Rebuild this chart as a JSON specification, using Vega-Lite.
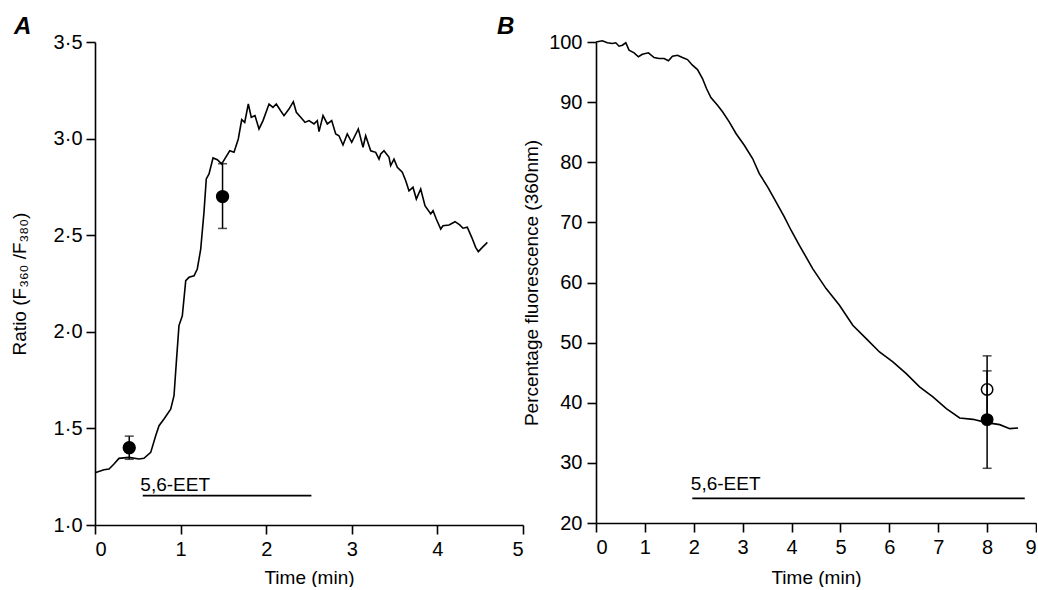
{
  "$schema": "https://vega.github.io/schema/vega-lite/v6.json",
  "padding": {"left": 10, "top": 15, "right": 0, "bottom": 0},
  "background": "white",
  "config": {
    "view": {"stroke": null},
    "font": "Liberation Sans",
    "axis": {
      "grid": false,
      "domainColor": "black",
      "domainWidth": 1.6,
      "tickColor": "black",
      "tickWidth": 1.6,
      "tickSize": 9,
      "labelColor": "black",
      "labelFont": "Liberation Sans",
      "labelFontSize": 20,
      "titleFont": "Liberation Sans",
      "titleFontSize": 19,
      "titleFontWeight": "normal",
      "titleColor": "black"
    },
    "title": {"font": "Liberation Sans", "fontSize": 24, "fontStyle": "italic", "fontWeight": "bold", "color": "black", "anchor": "start", "frame": "group"}
  },
  "datasets": {
    "traceA": [
      {"t": 0.0, "v": 1.27}, {"t": 0.105, "v": 1.286}, {"t": 0.164, "v": 1.29}, {"t": 0.222, "v": 1.316},
      {"t": 0.28, "v": 1.345}, {"t": 0.397, "v": 1.35}, {"t": 0.514, "v": 1.342}, {"t": 0.572, "v": 1.345},
      {"t": 0.651, "v": 1.376}, {"t": 0.709, "v": 1.462}, {"t": 0.748, "v": 1.514}, {"t": 0.806, "v": 1.549},
      {"t": 0.884, "v": 1.6}, {"t": 0.923, "v": 1.669}, {"t": 0.95, "v": 1.842}, {"t": 0.981, "v": 2.032},
      {"t": 1.02, "v": 2.083}, {"t": 1.06, "v": 2.265}, {"t": 1.098, "v": 2.282}, {"t": 1.157, "v": 2.29},
      {"t": 1.195, "v": 2.325}, {"t": 1.235, "v": 2.428}, {"t": 1.273, "v": 2.618}, {"t": 1.3, "v": 2.791},
      {"t": 1.332, "v": 2.817}, {"t": 1.379, "v": 2.9}, {"t": 1.429, "v": 2.891}, {"t": 1.48, "v": 2.869},
      {"t": 1.527, "v": 2.903}, {"t": 1.574, "v": 2.937}, {"t": 1.624, "v": 2.929}, {"t": 1.674, "v": 2.998},
      {"t": 1.714, "v": 3.098}, {"t": 1.749, "v": 3.084}, {"t": 1.791, "v": 3.179}, {"t": 1.826, "v": 3.11},
      {"t": 1.869, "v": 3.119}, {"t": 1.916, "v": 3.05}, {"t": 1.963, "v": 3.093}, {"t": 2.033, "v": 3.179},
      {"t": 2.079, "v": 3.162}, {"t": 2.118, "v": 3.179}, {"t": 2.169, "v": 3.144}, {"t": 2.208, "v": 3.119},
      {"t": 2.266, "v": 3.153}, {"t": 2.317, "v": 3.191}, {"t": 2.352, "v": 3.136}, {"t": 2.403, "v": 3.11},
      {"t": 2.453, "v": 3.084}, {"t": 2.5, "v": 3.093}, {"t": 2.558, "v": 3.076}, {"t": 2.597, "v": 3.093},
      {"t": 2.617, "v": 3.036}, {"t": 2.664, "v": 3.119}, {"t": 2.714, "v": 3.076}, {"t": 2.765, "v": 3.093},
      {"t": 2.812, "v": 3.024}, {"t": 2.85, "v": 3.015}, {"t": 2.897, "v": 2.967}, {"t": 2.947, "v": 3.024},
      {"t": 2.999, "v": 2.981}, {"t": 3.076, "v": 3.05}, {"t": 3.131, "v": 2.955}, {"t": 3.162, "v": 3.015},
      {"t": 3.221, "v": 2.937}, {"t": 3.279, "v": 2.929}, {"t": 3.318, "v": 2.894}, {"t": 3.338, "v": 2.92},
      {"t": 3.376, "v": 2.937}, {"t": 3.435, "v": 2.903}, {"t": 3.454, "v": 2.86}, {"t": 3.493, "v": 2.894},
      {"t": 3.532, "v": 2.851}, {"t": 3.59, "v": 2.826}, {"t": 3.63, "v": 2.782}, {"t": 3.668, "v": 2.73},
      {"t": 3.715, "v": 2.748}, {"t": 3.754, "v": 2.687}, {"t": 3.805, "v": 2.739}, {"t": 3.855, "v": 2.653},
      {"t": 3.922, "v": 2.61}, {"t": 3.949, "v": 2.627}, {"t": 3.987, "v": 2.584}, {"t": 4.039, "v": 2.532},
      {"t": 4.065, "v": 2.549}, {"t": 4.136, "v": 2.553}, {"t": 4.206, "v": 2.57}, {"t": 4.261, "v": 2.553},
      {"t": 4.299, "v": 2.536}, {"t": 4.349, "v": 2.541}, {"t": 4.401, "v": 2.489}, {"t": 4.447, "v": 2.437},
      {"t": 4.478, "v": 2.415}, {"t": 4.525, "v": 2.437}, {"t": 4.564, "v": 2.454}, {"t": 4.583, "v": 2.463}
    ],
    "traceB": [
      {"t": 0.0, "v": 100.0}, {"t": 0.129, "v": 100.2}, {"t": 0.232, "v": 99.87}, {"t": 0.334, "v": 99.75},
      {"t": 0.404, "v": 99.87}, {"t": 0.471, "v": 99.3}, {"t": 0.539, "v": 99.47}, {"t": 0.609, "v": 99.87},
      {"t": 0.676, "v": 98.64}, {"t": 0.779, "v": 98.2}, {"t": 0.867, "v": 97.54}, {"t": 0.949, "v": 97.97},
      {"t": 1.072, "v": 98.2}, {"t": 1.189, "v": 97.42}, {"t": 1.291, "v": 97.25}, {"t": 1.393, "v": 97.25},
      {"t": 1.482, "v": 96.87}, {"t": 1.564, "v": 97.64}, {"t": 1.666, "v": 97.8}, {"t": 1.768, "v": 97.42},
      {"t": 1.871, "v": 97.08}, {"t": 1.973, "v": 96.14}, {"t": 2.076, "v": 95.42}, {"t": 2.178, "v": 93.93},
      {"t": 2.26, "v": 92.26}, {"t": 2.35, "v": 90.77}, {"t": 2.486, "v": 89.48}, {"t": 2.588, "v": 88.39},
      {"t": 2.725, "v": 86.72}, {"t": 2.863, "v": 84.78}, {"t": 3.033, "v": 82.83}, {"t": 3.203, "v": 80.62},
      {"t": 3.34, "v": 78.12}, {"t": 3.51, "v": 75.91}, {"t": 3.682, "v": 73.41}, {"t": 3.852, "v": 70.92},
      {"t": 3.99, "v": 68.69}, {"t": 4.16, "v": 66.19}, {"t": 4.432, "v": 62.31}, {"t": 4.707, "v": 58.99},
      {"t": 4.98, "v": 56.21}, {"t": 5.252, "v": 52.88}, {"t": 5.527, "v": 50.67}, {"t": 5.799, "v": 48.45},
      {"t": 6.072, "v": 46.79}, {"t": 6.346, "v": 44.84}, {"t": 6.619, "v": 42.63}, {"t": 6.891, "v": 40.97},
      {"t": 7.166, "v": 39.02}, {"t": 7.439, "v": 37.47}, {"t": 7.711, "v": 37.24}, {"t": 7.986, "v": 36.69},
      {"t": 8.258, "v": 36.36}, {"t": 8.463, "v": 35.69}, {"t": 8.633, "v": 35.81}
    ],
    "ptsA": [
      {"t": 0.4, "v": 1.4, "lo": 1.34, "hi": 1.46, "kind": "filled"},
      {"t": 1.49, "v": 2.7, "lo": 2.535, "hi": 2.87, "kind": "filled"}
    ],
    "ptsB": [
      {"t": 8.0, "v": 37.2, "lo": 29.1, "hi": 45.3, "kind": "filled"},
      {"t": 8.0, "v": 42.2, "lo": 36.6, "hi": 47.8, "kind": "open"}
    ],
    "eetA": [{"start": 0.558, "end": 2.528, "v": 1.152, "labelT": 0.53, "labelV": 1.175, "label": "5,6-EET"}],
    "eetB": [{"start": 1.97, "end": 8.77, "v": 24.1, "labelT": 1.94, "labelV": 25.5, "label": "5,6-EET"}]
  },
  "hconcat": [
    {
      "width": 428,
      "height": 483,
      "title": {"text": "A", "dx": -81, "offset": -7},
      "layer": [
        {
          "data": {"name": "traceA"},
          "mark": {"type": "line", "color": "black", "strokeWidth": 1.6, "interpolate": "linear"},
          "encoding": {
            "x": {"field": "t", "type": "quantitative", "scale": {"domain": [0, 5], "nice": false, "zero": false},
                  "axis": {"title": "Time (min)", "values": [0, 1, 2, 3, 4, 5], "format": "d", "labelPadding": 5, "titlePadding": 9}},
            "y": {"field": "v", "type": "quantitative", "scale": {"domain": [1, 3.5], "nice": false, "zero": false},
                  "axis": {"title": "Ratio (F₃₆₀ /F₃₈₀)", "values": [1, 1.5, 2, 2.5, 3, 3.5], "labelExpr": "replace(format(datum.value, '.1f'), '.', '·')", "labelPadding": 4, "titlePadding": 24}}
          }
        },
        {
          "data": {"name": "ptsA"},
          "mark": {"type": "rule", "color": "black", "strokeWidth": 1.5},
          "encoding": {"x": {"field": "t", "type": "quantitative"}, "y": {"field": "lo", "type": "quantitative"}, "y2": {"field": "hi"}}
        },
        {
          "data": {"name": "ptsA"},
          "mark": {"type": "tick", "orient": "horizontal", "color": "black", "size": 9, "thickness": 1.5},
          "encoding": {"x": {"field": "t", "type": "quantitative"}, "y": {"field": "hi", "type": "quantitative"}}
        },
        {
          "data": {"name": "ptsA"},
          "mark": {"type": "tick", "orient": "horizontal", "color": "black", "size": 9, "thickness": 1.5},
          "encoding": {"x": {"field": "t", "type": "quantitative"}, "y": {"field": "lo", "type": "quantitative"}}
        },
        {
          "data": {"name": "ptsA"},
          "mark": {"type": "point", "shape": "circle", "filled": true, "size": 140, "opacity": 1, "stroke": "black", "strokeWidth": 1.5},
          "encoding": {"x": {"field": "t", "type": "quantitative"}, "y": {"field": "v", "type": "quantitative"},
                       "color": {"field": "kind", "type": "nominal", "scale": {"domain": ["filled", "open"], "range": ["black", "white"]}, "legend": null}}
        },
        {
          "data": {"name": "eetA"},
          "mark": {"type": "rule", "color": "black", "strokeWidth": 1.6},
          "encoding": {"x": {"field": "start", "type": "quantitative"}, "x2": {"field": "end"}, "y": {"field": "v", "type": "quantitative"}}
        },
        {
          "data": {"name": "eetA"},
          "mark": {"type": "text", "align": "left", "baseline": "alphabetic", "fontSize": 19, "font": "Liberation Sans", "color": "black"},
          "encoding": {"x": {"field": "labelT", "type": "quantitative"}, "y": {"field": "labelV", "type": "quantitative"}, "text": {"field": "label"}}
        }
      ]
    },
    {
      "width": 440,
      "height": 481,
      "title": {"text": "B", "dx": -99, "offset": -7},
      "layer": [
        {
          "data": {"name": "traceB"},
          "mark": {"type": "line", "color": "black", "strokeWidth": 1.6, "interpolate": "linear"},
          "encoding": {
            "x": {"field": "t", "type": "quantitative", "scale": {"domain": [0, 9], "nice": false, "zero": false},
                  "axis": {"title": "Time (min)", "values": [0, 1, 2, 3, 4, 5, 6, 7, 8, 9], "format": "d", "labelPadding": 5, "titlePadding": 11}},
            "y": {"field": "v", "type": "quantitative", "scale": {"domain": [20, 100], "nice": false, "zero": false},
                  "axis": {"title": "Percentage fluorescence (360nm)", "values": [20, 30, 40, 50, 60, 70, 80, 90, 100], "labelPadding": 5, "titlePadding": 7}}
          }
        },
        {
          "data": {"name": "ptsB"},
          "mark": {"type": "point", "shape": "circle", "filled": true, "size": 130, "opacity": 1, "stroke": "black", "strokeWidth": 1.5},
          "encoding": {"x": {"field": "t", "type": "quantitative"}, "y": {"field": "v", "type": "quantitative"},
                       "color": {"field": "kind", "type": "nominal", "scale": {"domain": ["filled", "open"], "range": ["black", "white"]}, "legend": null}}
        },
        {
          "data": {"name": "ptsB"},
          "mark": {"type": "rule", "color": "black", "strokeWidth": 1.5},
          "encoding": {"x": {"field": "t", "type": "quantitative"}, "y": {"field": "lo", "type": "quantitative"}, "y2": {"field": "hi"}}
        },
        {
          "data": {"name": "ptsB"},
          "mark": {"type": "tick", "orient": "horizontal", "color": "black", "size": 9, "thickness": 1.5},
          "encoding": {"x": {"field": "t", "type": "quantitative"}, "y": {"field": "hi", "type": "quantitative"}}
        },
        {
          "data": {"name": "ptsB"},
          "mark": {"type": "tick", "orient": "horizontal", "color": "black", "size": 9, "thickness": 1.5},
          "encoding": {"x": {"field": "t", "type": "quantitative"}, "y": {"field": "lo", "type": "quantitative"}}
        },
        {
          "data": {"name": "eetB"},
          "mark": {"type": "rule", "color": "black", "strokeWidth": 1.6},
          "encoding": {"x": {"field": "start", "type": "quantitative"}, "x2": {"field": "end"}, "y": {"field": "v", "type": "quantitative"}}
        },
        {
          "data": {"name": "eetB"},
          "mark": {"type": "text", "align": "left", "baseline": "alphabetic", "fontSize": 19, "font": "Liberation Sans", "color": "black"},
          "encoding": {"x": {"field": "labelT", "type": "quantitative"}, "y": {"field": "labelV", "type": "quantitative"}, "text": {"field": "label"}}
        }
      ]
    }
  ],
  "bounds": "flush",
  "spacing": 73
}
